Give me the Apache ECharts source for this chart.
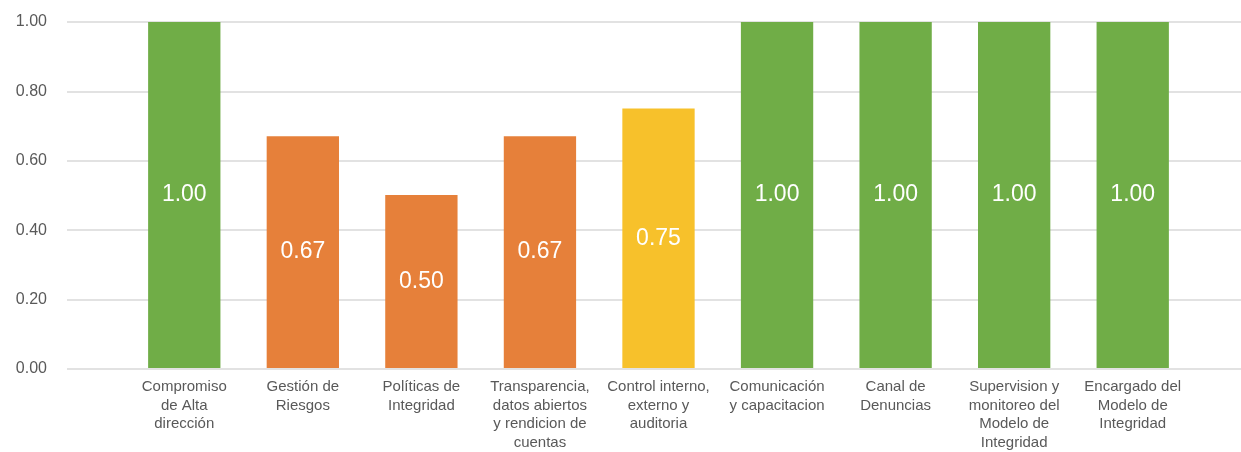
<!DOCTYPE html>
<html><head><meta charset="utf-8">
<script src="https://cdn.jsdelivr.net/npm/echarts@6/dist/echarts.min.js"></script>
<style>html,body{margin:0;padding:0;background:#fff}#c{width:1241px;height:452px}</style>
</head><body><div id="c"></div>
<script>
const categories = [
  "Compromiso\nde Alta\ndirección",
  "Gestión de\nRiesgos",
  "Políticas de\nIntegridad",
  "Transparencia,\ndatos abiertos\ny rendicion de\ncuentas",
  "Control interno,\nexterno y\nauditoria",
  "Comunicación\ny capacitacion",
  "Canal de\nDenuncias",
  "Supervision y\nmonitoreo del\nModelo de\nIntegridad",
  "Encargado del\nModelo de\nIntegridad"
];
const values = [1.00, 0.67, 0.50, 0.67, 0.75, 1.00, 1.00, 1.00, 1.00];
const barColors = ["#70AD47", "#E6803A", "#E6803A", "#E6803A", "#F7C12B", "#70AD47", "#70AD47", "#70AD47", "#70AD47"];
const yTicks = { min: 0, max: 1, interval: 0.2 };

const chart = echarts.init(document.getElementById('c'), null, {renderer: 'canvas'});
chart.setOption({
  animation: false,
  grid: [
    {left: 67, right: 0, top: 22, height: 347},
    {left: 125, right: 49, top: 22, height: 347}
  ],
  xAxis: [
    {gridIndex: 0, type: 'value', show: false, min: 0, max: 1},
    {gridIndex: 1, type: 'category', data: categories,
     axisLine: {show: false}, axisTick: {show: false},
     axisLabel: {interval: 0, margin: 10, color: '#595959', fontSize: 15, lineHeight: 18.5, fontFamily: 'Liberation Sans, Arial, sans-serif'}}
  ],
  yAxis: [
    {gridIndex: 0, type: 'value', min: yTicks.min, max: yTicks.max, interval: yTicks.interval,
     axisLine: {show: false}, axisTick: {show: false},
     splitLine: {lineStyle: {color: '#D9D9D9', width: 1.5}},
     axisLabel: {margin: 20, color: '#595959', fontSize: 16, fontFamily: 'Liberation Sans, Arial, sans-serif',
       formatter: v => v.toFixed(2)}},
    {gridIndex: 1, type: 'value', min: yTicks.min, max: yTicks.max, interval: yTicks.interval, show: false, splitLine: {show: false}}
  ],
  series: [{
    type: 'bar', xAxisIndex: 1, yAxisIndex: 1,
    barCategoryGap: '39%',
    data: values.map((v, i) => ({value: v, itemStyle: {color: barColors[i]}})),
    label: {show: true, position: 'inside', color: '#fff', fontSize: 23,
      fontFamily: 'Liberation Sans, Arial, sans-serif', formatter: p => p.value.toFixed(2)}
  }]
});
</script></body></html>
